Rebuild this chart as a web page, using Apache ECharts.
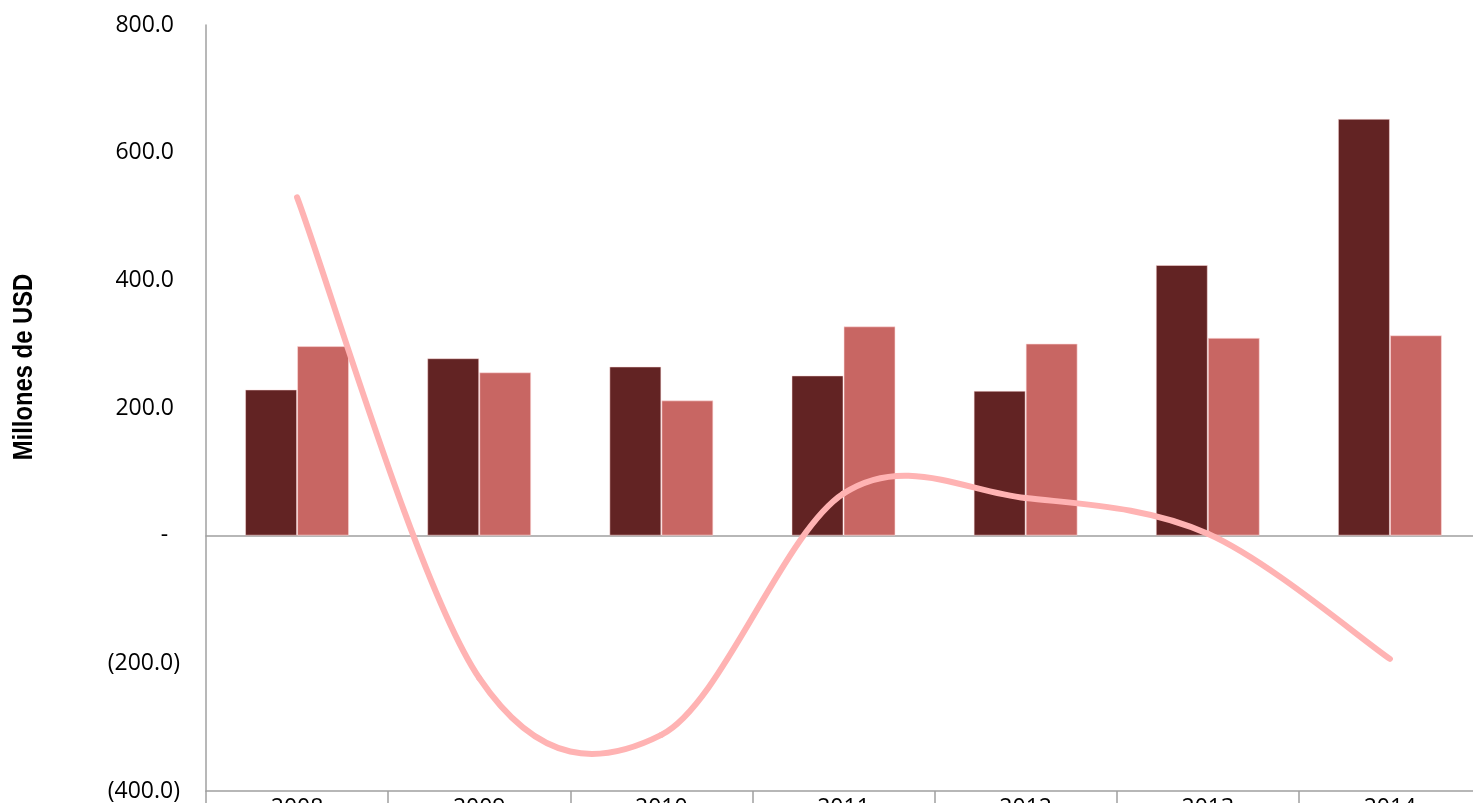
<!DOCTYPE html>
<html>
<head>
<meta charset="utf-8">
<script src="https://cdn.jsdelivr.net/npm/echarts@6/dist/echarts.min.js"></script>
<style>
  html, body { margin: 0; padding: 0; background: #fff; }
  #main { width: 1473px; height: 803px; }
</style>
</head>
<body>
<div id="main"></div>
<script>
// años
var years = ['2008', '2009', '2010', '2011', '2012', '2013', '2014'];
// barras oscuras
var serieA = [229, 278, 265, 251, 227, 424, 653];
// barras claras
var serieB = [297, 256, 212, 328, 301, 310, 314];
// linea (diferencia)
var serieC = [530, -223, -312, 66, 59, 3, -193];

var chart = echarts.init(document.getElementById('main'));

// formato tipo Excel: 800.0 / - / (200.0)
function fmt(v) {
    if (v > 0) return v.toFixed(1) + ' ';
    if (v < 0) return '(' + (-v).toFixed(1) + ')';
    return '-  ';
}

// curva suave tipo Excel (Catmull-Rom), un tramo por punto
function renderCurve(params, api) {
    var i = params.dataIndex;
    var n = serieC.length;
    if (i >= n - 1) return null;
    var p0 = api.coord([Math.max(i - 1, 0), serieC[Math.max(i - 1, 0)]]);
    var p1 = api.coord([i, serieC[i]]);
    var p2 = api.coord([i + 1, serieC[i + 1]]);
    var p3 = api.coord([Math.min(i + 2, n - 1), serieC[Math.min(i + 2, n - 1)]]);
    return {
        type: 'bezierCurve',
        shape: {
            x1: p1[0], y1: p1[1],
            x2: p2[0], y2: p2[1],
            cpx1: p1[0] + (p2[0] - p0[0]) / 6,
            cpy1: p1[1] + (p2[1] - p0[1]) / 6,
            cpx2: p2[0] - (p3[0] - p1[0]) / 6,
            cpy2: p2[1] - (p3[1] - p1[1]) / 6
        },
        style: {
            stroke: '#FFB3B3',
            lineWidth: 6,
            fill: null,
            lineCap: 'round'
        }
    };
}

var option = {
    animation: false,
    backgroundColor: '#fff',
    grid: {
        left: 206,
        top: 25,
        right: -8,
        bottom: 12,
        containLabel: false,
        outerBoundsMode: 'none'
    },
    xAxis: [
        {
            type: 'category',
            data: years,
            boundaryGap: true,
            position: 'bottom',
            axisLine: { onZero: false, lineStyle: { color: '#a0a0a0', width: 1.5 } },
            axisTick: { show: true, length: 14, lineStyle: { color: '#a0a0a0', width: 1.5 } },
            axisLabel: { color: '#000', fontSize: 23, fontFamily: 'Open Sans', margin: 6 },
            splitLine: { show: false }
        },
        {
            // linea de cero
            type: 'category',
            data: years,
            position: 'bottom',
            axisLine: { onZero: true, lineStyle: { color: '#a0a0a0', width: 1.5 } },
            axisTick: { show: false },
            axisLabel: { show: false },
            splitLine: { show: false }
        }
    ],
    yAxis: {
        type: 'value',
        min: -400,
        max: 800,
        interval: 200,
        axisLine: { show: true, lineStyle: { color: '#a0a0a0', width: 1.5 } },
        axisTick: { show: false },
        splitLine: { show: false },
        axisLabel: {
            color: '#000',
            fontSize: 23,
            fontFamily: 'Open Sans',
            margin: 26,
            formatter: fmt
        }
    },
    graphic: [
        {
            type: 'text',
            x: 24,
            y: 367,
            rotation: Math.PI / 2,
            scaleX: 0.85,
            style: {
                text: 'Millones de USD',
                fill: '#000',
                font: 'bold 28px "Liberation Sans", sans-serif',
                textAlign: 'center',
                textVerticalAlign: 'middle'
            }
        }
    ],
    series: [
        {
            name: 'Serie A',
            type: 'bar',
            data: serieA,
            barWidth: 52,
            barGap: '0%',
            itemStyle: { color: '#622323', borderColor: 'rgba(255,220,220,0.5)', borderWidth: 1 }
        },
        {
            name: 'Serie B',
            type: 'bar',
            data: serieB,
            barWidth: 52,
            barGap: '0%',
            itemStyle: { color: '#C86663', borderColor: 'rgba(255,220,220,0.6)', borderWidth: 1 }
        },
        {
            name: 'Serie C',
            type: 'custom',
            renderItem: renderCurve,
            data: serieC.map(function (v, i) { return [i, v]; }),
            encode: { x: 0, y: 1 },
            clip: false,
            z: 5
        }
    ]
};

chart.setOption(option);
</script>
</body>
</html>
